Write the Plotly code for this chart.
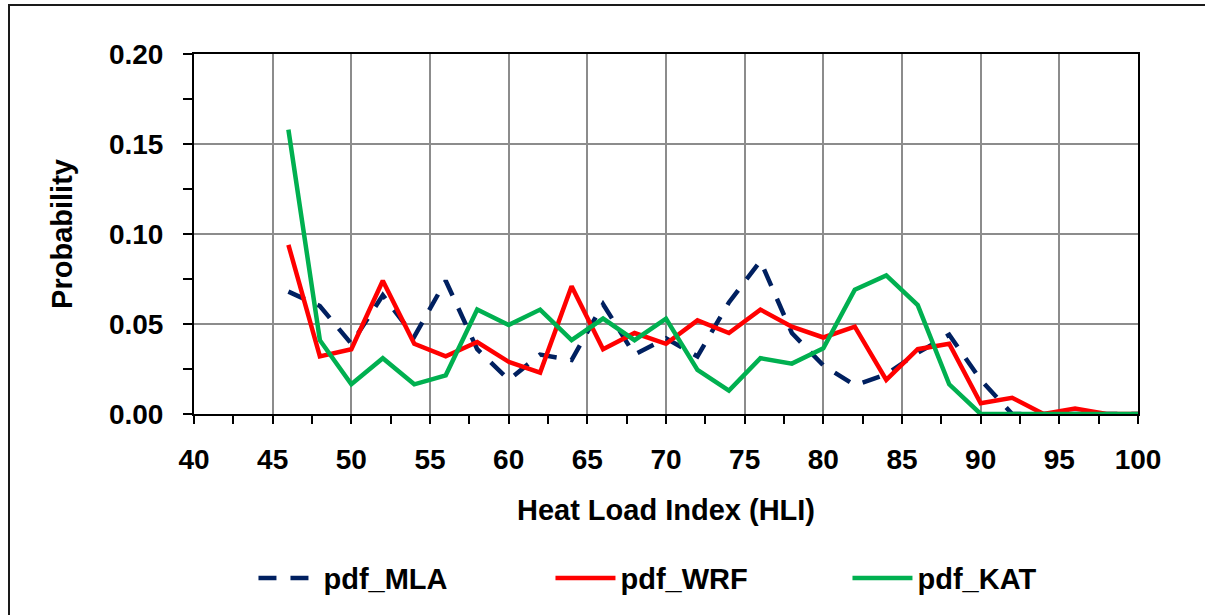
import plotly.graph_objects as go

hli = [46, 48, 50, 52, 54, 56, 58, 60, 62, 64, 66, 68, 70, 72, 74, 76, 78, 80,
       82, 84, 86, 88, 90, 92, 94, 96, 98, 100]

pdf_mla = [0.068, 0.060, 0.039, 0.066, 0.043, 0.074, 0.036, 0.019, 0.033, 0.030,
           0.061, 0.033, 0.042, 0.032, 0.062, 0.085, 0.045, 0.027, 0.016, 0.022,
           0.034, 0.044, 0.019, 0.000, 0.000, 0.000, 0.000, 0.000]

pdf_wrf = [0.094, 0.032, 0.036, 0.074, 0.039, 0.032, 0.040, 0.029, 0.023, 0.071,
           0.036, 0.045, 0.039, 0.052, 0.045, 0.058, 0.0485, 0.0425, 0.0485, 0.019,
           0.036, 0.039, 0.006, 0.009, 0.000, 0.003, 0.000, 0.000]

pdf_kat = [0.158, 0.041, 0.0165, 0.031, 0.0165, 0.0215, 0.058, 0.0495, 0.058, 0.041,
           0.053, 0.041, 0.053, 0.0245, 0.013, 0.031, 0.028, 0.0365, 0.069, 0.077,
           0.0605, 0.0165, 0.000, 0.000, 0.000, 0.000, 0.000, 0.000]

FONT = "Liberation Sans, Arial, sans-serif"

fig = go.Figure()
fig.add_trace(go.Scatter(x=hli, y=pdf_mla, mode="lines", name="pdf_MLA",
                         line=dict(color="#002060", width=4.5, dash="18px,14px"),
                         cliponaxis=False))
fig.add_trace(go.Scatter(x=hli, y=pdf_wrf, mode="lines", name="pdf_WRF",
                         line=dict(color="#FF0000", width=4.5), cliponaxis=False))
fig.add_trace(go.Scatter(x=hli, y=pdf_kat, mode="lines", name="pdf_KAT",
                         line=dict(color="#00B050", width=4.5), cliponaxis=False))

fig.update_layout(
    width=1205, height=615,
    margin=dict(l=194, r=67, t=54, b=201, autoexpand=False),
    paper_bgcolor="white", plot_bgcolor="white",
    font=dict(family=FONT, size=28, color="black"),
    showlegend=True,
    legend=dict(orientation="h", x=0.063, xanchor="left", y=-0.456, yanchor="middle",
                font=dict(family=FONT, size=29, color="black", weight="bold"),
                itemwidth=60, entrywidth=222, bgcolor="rgba(0,0,0,0)"),
    xaxis=dict(range=[40, 100], dtick=5, tick0=40, showgrid=True,
               gridcolor="#8c8c8c", gridwidth=1.5, automargin=False,
               showline=True, linecolor="black", linewidth=2, mirror=True,
               ticks="outside", ticklen=8, tickwidth=2, tickcolor="black",
               minor=dict(dtick=2.5, ticks="outside", ticklen=8, tickwidth=2,
                          tickcolor="black", showgrid=False),
               tickfont=dict(family=FONT, size=28, weight="bold"),
               ticklabelstandoff=11,
               title=dict(text="Heat Load Index (HLI)", standoff=26,
                          font=dict(family=FONT, size=29, weight="bold")),
               zeroline=False, layer="below traces"),
    yaxis=dict(range=[0, 0.20], dtick=0.05, tick0=0, tickformat=".2f", showgrid=True,
               gridcolor="#8c8c8c", gridwidth=1.5, automargin=False,
               showline=True, linecolor="black", linewidth=2, mirror=True,
               ticks="outside", ticklen=9, tickwidth=2, tickcolor="black",
               minor=dict(dtick=0.025, ticks="outside", ticklen=9, tickwidth=2,
                          tickcolor="black", showgrid=False),
               tickfont=dict(family=FONT, size=28, weight="bold"),
               ticklabelstandoff=14,
               title=dict(text="Probability", standoff=28,
                          font=dict(family=FONT, size=29, weight="bold")),
               zeroline=False, layer="below traces"),
    xaxis2=dict(range=[40, 100], overlaying="x", anchor="y", side="bottom",
                dtick=5, tick0=40, ticks="inside", ticklen=7, tickwidth=2,
                tickcolor="black", showticklabels=False, showgrid=False,
                showline=False, zeroline=False, automargin=False,
                minor=dict(dtick=2.5, ticks="inside", ticklen=7, tickwidth=2,
                           tickcolor="black", showgrid=False),
                layer="below traces"),
    yaxis2=dict(range=[0, 0.20], overlaying="y", anchor="x", side="left",
                dtick=0.05, tick0=0, ticks="inside", ticklen=6, tickwidth=2,
                tickcolor="black", showticklabels=False, showgrid=False,
                showline=False, zeroline=False, automargin=False,
                minor=dict(dtick=0.025, ticks="inside", ticklen=6, tickwidth=2,
                           tickcolor="black", showgrid=False),
                layer="below traces"),
    shapes=[dict(type="rect", xref="paper", yref="paper",
                 x0=(9 - 194) / 944, x1=(1215 - 194) / 944,
                 y0=(414 - 625) / 360, y1=(414 - 5) / 360,
                 line=dict(color="#1a1a1a", width=2), fillcolor="rgba(0,0,0,0)",
                 layer="below")],
)

fig.write_html("out.html")
